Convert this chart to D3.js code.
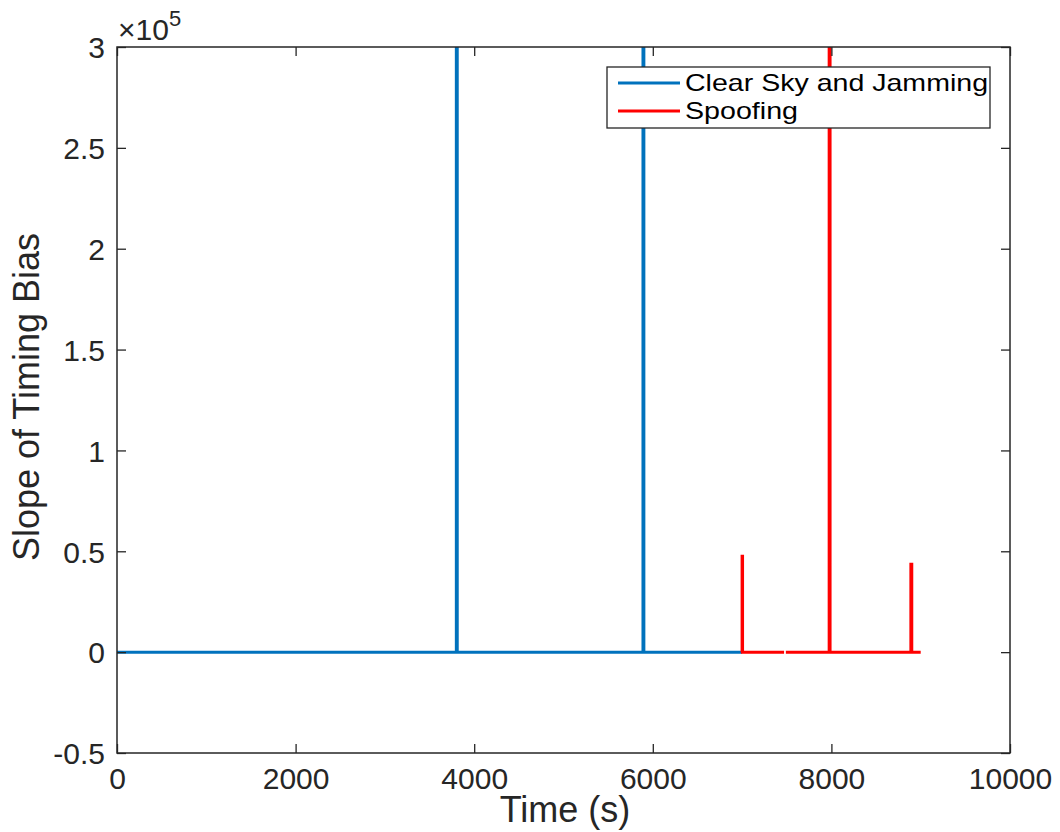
<!DOCTYPE html>
<html>
<head>
<meta charset="utf-8">
<script src="https://cdn.jsdelivr.net/npm/d3@7"></script>
<style>
  body { margin: 0; background: #fff; }
  svg text { font-family: "Liberation Sans", Helvetica, Arial, sans-serif; fill: #262626; }
</style>
</head>
<body>
<svg id="chart" width="1060" height="832"></svg>
<script>
// Time (s) and slope values for each series; null breaks the line
const clearTime  = [0, 3800, 3800, 3810, 3810, 5890, 5890, 5900, 5900, 7000];
const clearSlope = [0, 0, 1.2e6, 1.2e6, 0, 0, 1.2e6, 1.2e6, 0, 0];
const spoofTime  = [7000, 7000, 7005, 7005, 7470, 7475, 7490, 7975, 7975, 7985, 7985, 8890, 8890, 8900, 8900, 9000];
const spoofSlope = [0, 47600, 47600, 0, 0, null, 0, 0, 1.2e6, 1.2e6, 0, 0, 43600, 43600, 0, 0];
const xTicks = [0, 2000, 4000, 6000, 8000, 10000];
const yTicks = [-0.5e5, 0, 0.5e5, 1e5, 1.5e5, 2e5, 2.5e5, 3e5];
const seriesNames = ["Clear Sky and Jamming", "Spoofing"];
const seriesColors = ["#0072BD", "#FF0000"];

const svg = d3.select("#chart");
const m = { left: 117, right: 1010, top: 47, bottom: 753 };
const x = d3.scaleLinear().domain([0, 10000]).range([m.left, m.right]);
const y = d3.scaleLinear().domain([-0.5e5, 3e5]).range([m.bottom, m.top]);

svg.append("clipPath").attr("id", "plotClip")
  .append("rect").attr("x", m.left).attr("y", m.top)
  .attr("width", m.right - m.left).attr("height", m.bottom - m.top);

const toPts = (t, v) => t.map((d, i) => [d, v[i]]);
const line = d3.line().defined(d => d[1] !== null).x(d => x(d[0])).y(d => y(d[1]));

const plot = svg.append("g").attr("clip-path", "url(#plotClip)");
[toPts(clearTime, clearSlope), toPts(spoofTime, spoofSlope)].forEach((pts, i) => {
  plot.append("path").datum(pts).attr("d", line)
    .attr("fill", "none").attr("stroke", seriesColors[i])
    .attr("stroke-width", 3).attr("stroke-linejoin", "miter");
});

// Axes: ticks inward on all four sides
const fmtY = d => d === 0 ? "0" : String(d / 1e5);
const tl = 9;
const axB = svg.append("g").attr("transform", `translate(0,${m.bottom})`)
  .call(d3.axisBottom(x).tickValues(xTicks).tickSizeInner(-tl).tickSizeOuter(0).tickPadding(14).tickFormat(d3.format("d")));
const axT = svg.append("g").attr("transform", `translate(0,${m.top})`)
  .call(d3.axisTop(x).tickValues(xTicks).tickSizeInner(-tl).tickSizeOuter(0).tickFormat(""));
const axL = svg.append("g").attr("transform", `translate(${m.left},0)`)
  .call(d3.axisLeft(y).tickValues(yTicks).tickSizeInner(-tl).tickSizeOuter(0).tickPadding(12).tickFormat(fmtY));
const axR = svg.append("g").attr("transform", `translate(${m.right},0)`)
  .call(d3.axisRight(y).tickValues(yTicks).tickSizeInner(-tl).tickSizeOuter(0).tickFormat(""));
[axB, axT, axL, axR].forEach(a => {
  a.select(".domain").remove();
  a.selectAll("line").attr("stroke", "#262626").attr("stroke-width", 1.3);
  a.selectAll("text").attr("font-size", 30).style("fill", "#262626");
});
axB.selectAll("text").attr("y", 0).attr("dy", 0).attr("transform", "translate(0,36)");
axL.selectAll("text").attr("dy", "0.36em");

svg.append("rect").attr("x", m.left).attr("y", m.top)
  .attr("width", m.right - m.left).attr("height", m.bottom - m.top)
  .attr("fill", "none").attr("stroke", "#262626").attr("stroke-width", 1.5);

// Exponent label
const ex = svg.append("text").attr("x", 118).attr("y", 40).attr("font-size", 30);
ex.append("tspan").text("×10");
ex.append("tspan").attr("font-size", 22).attr("dy", -14).text("5");

// Axis titles
svg.append("text").attr("x", 565).attr("y", 822)
  .attr("text-anchor", "middle").attr("font-size", 36).text("Time (s)");
svg.append("text").attr("transform", `translate(39,${(m.top + m.bottom) / 2 - 3}) rotate(-90)`)
  .attr("text-anchor", "middle").attr("font-size", 36).text("Slope of Timing Bias");

// Legend
const legendWidths = [303, 113];
const lg = svg.append("g");
lg.append("rect").attr("x", 607).attr("y", 67).attr("width", 383).attr("height", 61)
  .attr("fill", "#fff").attr("stroke", "#262626").attr("stroke-width", 1.3);
seriesNames.forEach((n, i) => {
  const yy = 82 + i * 28;
  lg.append("line").attr("x1", 618).attr("x2", 680).attr("y1", yy + 1).attr("y2", yy + 1)
    .attr("stroke", seriesColors[i]).attr("stroke-width", 3);
  lg.append("text").attr("x", 685).attr("y", yy).attr("dy", "0.36em")
    .attr("font-size", 24).attr("textLength", legendWidths[i]).attr("lengthAdjust", "spacingAndGlyphs")
    .style("fill", "#000").text(n);
});
</script>
</body>
</html>
